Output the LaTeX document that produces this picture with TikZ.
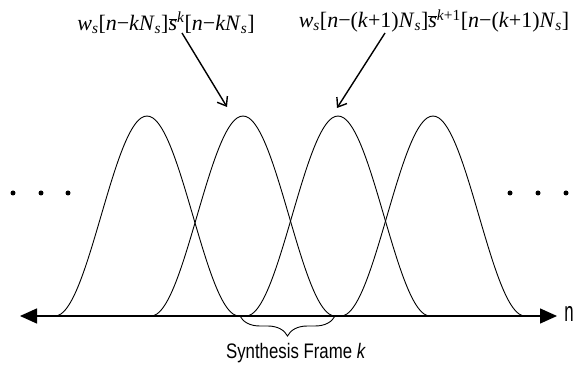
\documentclass[tikz,border=0pt]{standalone}
\usepackage{fontspec}
\setmainfont{Liberation Serif}
\newfontfamily\arialfont{Liberation Sans}
\usetikzlibrary{arrows.meta,decorations.pathreplacing}
\newcommand{\subS}{\textsubscript{\textit{s}}}
\newcommand{\sBar}{$\overline{\hbox{\textit{s}}}$}
\begin{document}
\begin{tikzpicture}[x=1pt,y=1pt,
  win/.style={line width=0.9pt},
  dotm/.style={circle,fill,inner sep=0pt,minimum size=5pt},
  lbl/.style={inner sep=0pt,font=\fontsize{22}{26}\selectfont},
  ptr/.style={line width=1.4pt,-{Straight Barb[length=8pt,width=12pt]}},
  axisline/.style={line width=1.4pt,{Triangle[length=17pt,width=15pt]}-{Triangle[length=17pt,width=15pt]}},
  bracestyle/.style={line width=0.9pt,decorate,decoration={brace,mirror,amplitude=20pt}}]
\useasboundingbox (0,0) rectangle (578,369);
% windows
\foreach \c in {147,243,338,433}
  \draw[win] plot[domain=-92:92,samples=61,smooth] ({\c+\x},{53+200*cos(\x*0.97826)*cos(\x*0.97826)});
% axis
\coordinate (axL) at (20,53);
\coordinate (axR) at (557,53);
\draw[axisline] (axL) -- (axR);
\node[inner sep=0pt] (nlbl) at (569,55) {\arialfont\scalebox{0.6}[1]{\fontsize{28}{28}\selectfont n}};
% brace
\coordinate (brL) at (240,53);
\coordinate (brR) at (335,53);
\draw[bracestyle] (brL) -- (brR);
\node[inner sep=0pt] (frame) at (296,16) {\arialfont\fontsize{21}{24}\selectfont\scalebox{0.8}[1]{Synthesis Frame \textit{k}}};
% dots
\foreach \i/\xx in {1/13,2/41,3/68,4/510,5/538,6/566}
  \node[dotm] (d\i) at (\xx,176) {};
% labels
\node[lbl] (lab1) at (166,346) {\textit{w}\subS[\textit{n}−\textit{kN}\subS]\sBar\textsuperscript{\textit{k}}[\textit{n}−\textit{kN}\subS]};
\node[lbl] (lab2) at (434,348) {\textit{w}\subS[\textit{n}−(\textit{k}+1)\textit{N}\subS]\sBar\textsuperscript{\textit{k}+1}[\textit{n}−(\textit{k}+1)\textit{N}\subS]};
% pointers
\coordinate (p1s) at (182,336);
\coordinate (p1e) at (227,262);
\coordinate (p2s) at (385,336);
\coordinate (p2e) at (337,261);
\draw[ptr] (p1s) -- (p1e);
\draw[ptr] (p2s) -- (p2e);
\end{tikzpicture}
\end{document}
